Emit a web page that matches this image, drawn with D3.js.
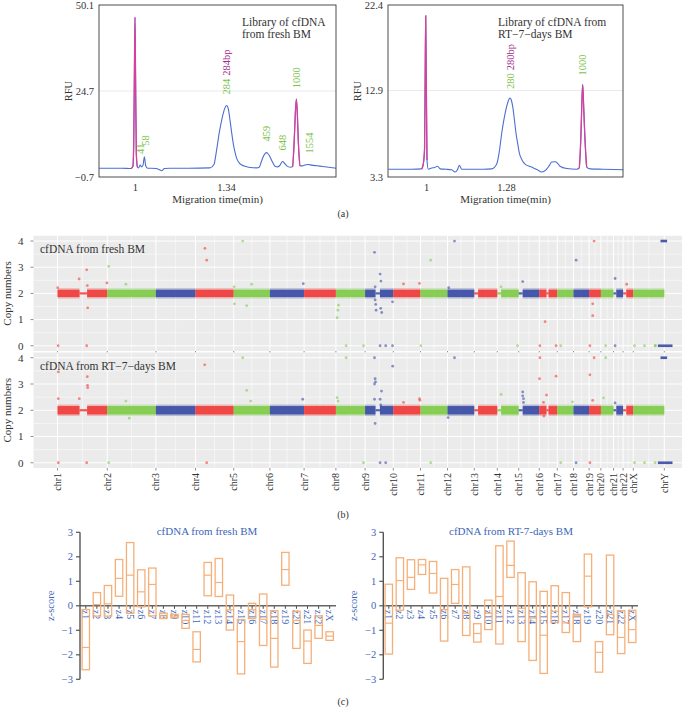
<!DOCTYPE html>
<html><head><meta charset="utf-8">
<script src="https://cdn.jsdelivr.net/npm/d3@7"></script>
<style>
body{margin:0;background:#fff}
svg{display:block}
text{font-family:"Liberation Serif","DejaVu Serif",serif}
</style>
</head><body>
<svg id="fig" width="686" height="707"></svg>
<script>
// ---------------- DATA ----------------
// (a) electropherograms: migration time (min) and RFU
const freshT = [0.866,0.95,0.985,0.992,0.995,0.998,1.0,1.002,1.005,1.009,1.014,1.019,1.025,1.030,1.035,1.040,1.047,1.06,1.08,1.09,1.0997,1.11,1.13,1.20,1.28,1.295,1.305,1.315,1.324,1.335,1.3425,1.349,1.355,1.361,1.367,1.374,1.380,1.39,1.399,1.415,1.43,1.455,1.464,1.472,1.479,1.486,1.492,1.498,1.504,1.513,1.523,1.533,1.542,1.547,1.552,1.558,1.567,1.58,1.589,1.595,1.599,1.603,1.607,1.610,1.616,1.625,1.638,1.648,1.66,1.68,1.702,1.73,1.751];
const freshRFU = [1.9,1.9,1.8,2.4,8,32,46.5,30,6,2.2,2.0,2.85,2.3,2.8,5.3,2.6,1.9,1.9,1.8,1.5,1.16,1.8,1.9,1.9,2.0,3.0,7.3,12.5,16.1,19.5,20.4,19.3,16.1,12.5,9.25,6.5,4.8,3.4,2.85,2.4,2.1,2.0,2.2,3.8,5.3,6.2,6.5,6.1,5.3,3.8,2.5,2.3,2.8,3.5,3.9,3.4,2.6,2.2,2.3,10.2,18,22.3,17,10.2,2.6,2.6,2.9,3.0,2.8,2.6,2.4,2.1,1.9];
const freshMarkers = [[0.985,1.012],[1.586,1.62]];
const freshPeakT = [1.019,1.04,1.3425,1.492,1.552,1.603,1.65];
const freshPeakRFU = [2.85,5.3,20.4,6.5,3.9,22.3,3.0];
const freshPeakText = ["41","58","284","459","648","1000","1554"];
const freshPeakBp = ["","","284bp","","","",""];

const rtT = [0.868,0.95,0.985,0.991,0.995,0.997,0.999,1.001,1.0035,1.008,1.02,1.03,1.040,1.05,1.07,1.09,1.1015,1.11,1.1167,1.125,1.15,1.20,1.23,1.2474,1.256,1.265,1.274,1.2824,1.29,1.294,1.298,1.3034,1.309,1.315,1.321,1.3267,1.336,1.3465,1.37,1.39,1.405,1.42,1.43,1.44,1.4515,1.46,1.469,1.4924,1.527,1.5366,1.5425,1.5455,1.5484,1.552,1.5555,1.5625,1.575,1.62,1.69];
const rtRFU = [4.16,4.16,4.2,4.84,6.5,14,21.2,14,5.2,4.16,4.3,4.35,4.5,4.2,4.16,4.1,3.85,4.1,4.6,4.16,4.16,4.16,4.2,4.74,6.0,8.16,9.9,11.14,11.9,12.08,11.9,11.14,9.8,8.16,7.0,5.95,5.2,4.74,4.4,4.1,3.85,4.1,4.5,4.97,5.0,4.85,4.5,4.25,4.16,4.3,8.16,11.5,13.57,11,8.16,4.4,4.2,4.16,4.1];
const rtMarkers = [[0.985,1.006],[1.534,1.565]];
const rtPeakT = [1.294,1.5484];
const rtPeakRFU = [12.08,13.57];
const rtPeakText = ["280","1000"];
const rtPeakBp = ["280bp",""];

const freshYTicks = [-0.7,24.7,50.1];
const rtYTicks = [3.3,12.9,22.4];
const freshXTicks = [1,1.34];
const rtXTicks = [1,1.28];

// (b) copy numbers
const chrNames = ["chr1","chr2","chr3","chr4","chr5","chr6","chr7","chr8","chr9","chr10","chr11","chr12","chr13","chr14","chr15","chr16","chr17","chr18","chr19","chr20","chr21","chr22","chrX","chrY"];
const chrLengths = [249,243,198,191,181,171,159,146,141,136,135,134,115,107,103,90,81,78,59,63,48,51,155,59];
const copyTicks = [0,1,2,3,4];
const bandLevel = 2;
const thinStart = [110,1590,2084,2199,2306,2445,2780,2828];
const thinEnd   = [148,1612,2103,2218,2326,2455,2794,2844];
const chrYBlobs = [[3002,3075,0],[3015,3048,4]];
const outFresh = [[1,2.22],[3,0],[108,2.55],[146,2.9],[149,2.3],[151,1.45],[146,0],[247,2.4],[256,3.03],[342,2.35],[737,3.72],[746,3.27],[926,4.0],[883,2.25],[885,1.6],[946,1.53],[971,2.35],[1229,2.37],[1405,1.55],[1402,1.36],[1398,1.07],[1443,0],[1530,0],[1585,3.57],[1613,2.74],[1617,2.47],[1588,2.25],[1588,1.75],[1591,1.58],[1593,1.36],[1616,1.43],[1621,1.27],[1613,0],[1641,0],[1675,1.68],[1675,0],[1730,2.36],[1810,2.38],[1817,0],[1866,3.27],[1985,4.0],[1956,2.22],[2218,2.25],[2300,0],[2326,2.45],[2412,0],[2438,0.92],[2493,0],[2516,0],[2593,3.27],[2662,0],[2676,1.6],[2676,1.15],[2683,4.0],[2741,0],[2788,2.57],[2788,0],[2846,2.35],[2885,0],[2935,0],[2988,0],[2990,0]];
const outRT = [[4,3.46],[4,2.44],[4,0],[109,2.44],[149,3.28],[150,2.95],[151,2.86],[146,0],[342,2.35],[359,1.7],[256,0],[736,3.73],[746,0],[926,4.0],[946,2.76],[966,2.35],[1226,2.42],[1398,2.48],[1403,2.35],[1443,4.0],[1530,0],[1585,4.0],[1588,3.2],[1590,3.08],[1585,3.0],[1620,2.73],[1585,2.42],[1613,2.42],[1616,2.2],[1588,1.5],[1676,3.68],[1613,0],[1641,0],[1730,2.3],[1810,2.44],[1812,2.38],[1866,0],[1985,4.0],[1953,1.72],[2218,2.6],[2326,2.7],[2326,2.55],[2330,2.44],[2330,2.3],[2412,4.0],[2410,3.2],[2430,2.3],[2445,2.58],[2432,1.78],[2493,3.3],[2516,0],[2575,2.32],[2593,0],[2662,3.35],[2662,0],[2683,4.0],[2676,2.38],[2741,4.0],[2730,2.47],[2788,2.28],[2885,0],[2935,0],[2988,0]];

// (c) z-scores
const zCats = ["z1","z2","z3","z4","z5","z6","z7","z8","z9","z10","z11","z12","z13","z14","z15","z16","z17","z18","z19","z20","z21","z22","zX"];
const freshTop = [-0.15,0.54,0.83,1.89,2.58,1.47,1.54,-0.30,-0.35,-0.35,-1.06,1.77,1.93,0.44,-0.56,0.10,0.48,-0.2,2.18,-0.22,-0.99,-0.41,-1.06];
const freshMid = [-1.70,0.05,0.08,1.12,1.25,0.57,0.87,-0.41,-0.42,-0.6,-1.78,1.25,0.95,-0.16,-1.46,-0.16,-0.55,-1.33,1.48,-0.6,-1.44,-0.8,-1.24];
const freshBot = [-2.61,-0.42,-0.42,0.39,-0.31,-0.04,-0.41,-0.52,-0.49,-0.92,-2.29,0.41,0.38,-0.99,-2.78,-0.52,-1.62,-2.5,0.84,-1.74,-2.35,-1.33,-1.41];
const rtTop = [0.88,1.96,1.88,1.89,1.81,1.12,1.48,1.59,-0.73,0.23,2.45,2.64,1.35,0.98,0.59,0.82,0.54,-0.35,2.11,-1.46,2.07,-0.2,-0.18];
const rtMid = [-0.71,1.03,1.16,1.67,1.32,-0.15,0.87,-0.3,-1.13,-0.3,0.38,1.65,-0.1,-0.5,-1.2,-0.23,-0.7,-0.41,1.21,-1.9,-0.35,-1.29,-0.97];
const rtBot = [-1.97,-0.18,0.67,1.28,0.52,-1.44,0.10,-1.21,-1.48,-0.97,-1.56,1.16,-1.46,-2.23,-2.76,-0.68,-1.09,-1.46,-0.04,-2.71,-1.18,-1.95,-1.5];
const zTicks = [-3,-2,-1,0,1,2,3];

// ---------------- DRAW ----------------
const svg = d3.select("#fig");
svg.append("rect").attr("width",686).attr("height",707).attr("fill","#fff");

const BLUE_TRACE = "#4a6fcf", PINK = "#d6409b", GREEN_LBL = "#7cc24a", PURPLE_LBL = "#a02a8c";

function electro(o){
  const g = svg.append("g");
  const x = d3.scaleLinear().domain(o.xDom).range([o.x0,o.x1]);
  const y = d3.scaleLinear().domain(o.yDom).range([o.y1,o.y0]);
  g.append("line").attr("x1",o.x0).attr("x2",o.x1).attr("y1",y(o.yTicks[1])).attr("y2",y(o.yTicks[1]))
    .attr("stroke","#e4e4e4").attr("stroke-width",0.8);
  const pts = o.t.map((t,i)=>[t,o.v[i]]);
  const line = d3.line().x(d=>x(d[0])).y(d=>y(d[1])).curve(d3.curveMonotoneX);
  g.append("path").attr("d",line(pts)).attr("fill","none").attr("stroke",BLUE_TRACE).attr("stroke-width",1.1);
  o.markers.forEach(r=>{
    const seg = pts.filter(p=>p[0]>=r[0]&&p[0]<=r[1]);
    g.append("path").attr("d",line(seg)).attr("fill","none").attr("stroke",PINK).attr("stroke-width",1.3);
  });
  g.append("rect").attr("x",o.x0).attr("y",o.y0).attr("width",o.x1-o.x0).attr("height",o.y1-o.y0)
    .attr("fill","none").attr("stroke","#3a3a3a").attr("stroke-width",0.9);
  const ya = g.append("g").attr("transform",`translate(${o.x0},0)`)
    .call(d3.axisLeft(y).tickValues(o.yTicks).tickSize(0).tickPadding(5).tickFormat(d3.format(".1f")));
  ya.select(".domain").remove();
  ya.selectAll("text").attr("font-size",10.5).attr("fill","#333").style("font-family","Liberation Serif");
  const xa = g.append("g").attr("transform",`translate(0,${o.y1})`)
    .call(d3.axisBottom(x).tickValues(o.xTicks).tickSize(0).tickPadding(7).tickFormat(d=>String(d)));
  xa.select(".domain").remove();
  xa.selectAll("text").attr("font-size",10.5).attr("fill","#333").style("font-family","Liberation Serif");
  g.append("text").attr("transform",`translate(${o.x0-27},${(o.y0+o.y1)/2}) rotate(-90)`)
    .attr("text-anchor","middle").attr("font-size",10.5).attr("fill","#333").text("RFU");
  g.append("text").attr("x",(o.x0+o.x1)/2).attr("y",o.y1+26).attr("text-anchor","middle")
    .attr("font-size",11).attr("fill","#333").text("Migration time(min)");
  o.pT.forEach((t,i)=>{
    const tx = g.append("text").attr("transform",`translate(${x(t)},${y(o.pV[i])-o.lblOff}) rotate(-90)`)
      .attr("dy","0.35em").attr("font-size",10.5);
    tx.append("tspan").attr("fill",GREEN_LBL).text(o.pText[i]);
    if(o.pBp[i]) tx.append("tspan").attr("fill",PURPLE_LBL).attr("dx",3).text(o.pBp[i]);
  });
  o.note.forEach((s,i)=>{
    g.append("text").attr("x",o.noteX).attr("y",26+i*12).attr("font-size",11.5).attr("fill","#333").text(s);
  });
}

electro({x0:99,x1:336,y0:5,y1:177,xDom:[0.8655,1.751],yDom:[-0.7,50.1],yTicks:freshYTicks,xTicks:freshXTicks,
  t:freshT,v:freshRFU,markers:freshMarkers,pT:freshPeakT,pV:freshPeakRFU,pText:freshPeakText,pBp:freshPeakBp,lblOff:11,
  note:["Library of cfDNA","from fresh BM"],noteX:242});
electro({x0:388,x1:623,y0:5,y1:177,xDom:[0.867,1.6895],yDom:[3.3,22.4],yTicks:rtYTicks,xTicks:rtXTicks,
  t:rtT,v:rtRFU,markers:rtMarkers,pT:rtPeakT,pV:rtPeakRFU,pText:rtPeakText,pBp:rtPeakBp,lblOff:9,
  note:["Library of cfDNA from","RT\u22127\u2212days BM"],noteX:498});

svg.append("text").attr("x",343).attr("y",217).attr("text-anchor","middle").attr("font-size",10).attr("fill","#333").text("(a)");

// ---------- (b) ----------
const chrStarts = [0, ...d3.cumsum(chrLengths)].slice(0,chrLengths.length);
const cols = ["#ee2e2c","#77c83d","#2d3f9e"];
const colOf = g => cols[(d3.bisectRight(chrStarts,g)-1)%3];
const bx = d3.scaleLinear().domain([-120,3122.5]).range([33.5,682]);
const panels = [
  {y0:235.8,y1:351,title:"cfDNA from fresh BM",out:outFresh,hw:0.14},
  {y0:352.5,y1:468,title:"cfDNA from RT\u22127\u2212days BM",out:outRT,hw:0.16}
];
const minorX = chrStarts.slice(1).map((s,i)=>(s+chrStarts[i])/2);
panels.forEach(p=>{
  const g = svg.append("g");
  const y = d3.scaleLinear().domain([-0.2,4.2]).range([p.y1,p.y0]);
  const [L,R] = bx.range();
  g.append("rect").attr("x",L).attr("y",p.y0).attr("width",R-L).attr("height",p.y1-p.y0).attr("fill","#ebebeb");
  [0.5,1.5,2.5,3.5].forEach(v=>g.append("line").attr("x1",L).attr("x2",R).attr("y1",y(v)).attr("y2",y(v)).attr("stroke","#fff").attr("stroke-width",0.5));
  minorX.forEach(v=>g.append("line").attr("x1",bx(v)).attr("x2",bx(v)).attr("y1",p.y0).attr("y2",p.y1).attr("stroke","#fff").attr("stroke-width",0.5));
  copyTicks.forEach(v=>g.append("line").attr("x1",L).attr("x2",R).attr("y1",y(v)).attr("y2",y(v)).attr("stroke","#fff").attr("stroke-width",1));
  chrStarts.forEach(v=>g.append("line").attr("x1",bx(v)).attr("x2",bx(v)).attr("y1",p.y0).attr("y2",p.y1).attr("stroke","#fff").attr("stroke-width",1));
  chrStarts.forEach((s,i)=>{
    if(chrNames[i]==="chrY") return;
    const e = s+chrLengths[i];
    const col = cols[i%3];
    const pieces = [];
    let cur = s;
    thinStart.forEach((ts,k)=>{ if(ts>=s && ts<e){ if(ts>cur) pieces.push([cur,ts,p.hw]); pieces.push([ts,thinEnd[k],0.04]); cur=thinEnd[k]; }});
    if(cur<e) pieces.push([cur,e,p.hw]);
    pieces.forEach(pc=>{
      if(pc[2]>0.05){
        g.append("rect").attr("x",bx(pc[0])).attr("width",bx(pc[1])-bx(pc[0]))
          .attr("y",y(bandLevel+pc[2]+0.06)).attr("height",y(bandLevel-pc[2]-0.06)-y(bandLevel+pc[2]+0.06))
          .attr("fill",col).attr("opacity",0.28);
      }
      g.append("rect").attr("x",bx(pc[0])).attr("width",bx(pc[1])-bx(pc[0]))
        .attr("y",y(bandLevel+pc[2])).attr("height",y(bandLevel-pc[2])-y(bandLevel+pc[2]))
        .attr("fill",col).attr("opacity",0.82);
    });
  });
  chrYBlobs.forEach(b=>{
    g.append("rect").attr("x",bx(b[0])).attr("width",bx(b[1])-bx(b[0])).attr("y",y(b[2]+0.05)).attr("height",y(b[2]-0.05)-y(b[2]+0.05))
      .attr("fill",cols[2]).attr("opacity",0.85);
  });
  g.selectAll("circle.o").data(p.out).join("circle").attr("cx",d=>bx(d[0])).attr("cy",d=>y(d[1])).attr("r",1.4)
    .attr("fill",d=>colOf(d[0])).attr("opacity",0.55);
  copyTicks.forEach(v=>{
    g.append("line").attr("x1",L-3).attr("x2",L).attr("y1",y(v)).attr("y2",y(v)).attr("stroke","#444").attr("stroke-width",0.6);
    g.append("text").attr("x",L-10).attr("y",y(v)).attr("dy","0.35em").attr("text-anchor","end").attr("font-size",11).attr("fill","#333").text(v);
  });
  chrStarts.forEach(v=>g.append("line").attr("x1",bx(v)).attr("x2",bx(v)).attr("y1",p.y1).attr("y2",p.y1+2.5).attr("stroke","#444").attr("stroke-width",0.6));
  g.append("text").attr("transform",`translate(11,${(p.y0+p.y1)/2}) rotate(-90)`).attr("text-anchor","middle")
    .attr("font-size",11).attr("fill","#333").text("Copy numbers");
  g.append("text").attr("x",40).attr("y",p.y0+17).attr("font-size",11.5).attr("fill","#333").text(p.title);
});
chrStarts.forEach((s,i)=>{
  svg.append("text").attr("transform",`translate(${bx(s)},473) rotate(-90)`).attr("text-anchor","end").attr("dy","0.35em")
    .attr("font-size",10).attr("fill","#333").text(chrNames[i]);
});
svg.append("text").attr("x",343).attr("y",518).attr("text-anchor","middle").attr("font-size",10).attr("fill","#333").text("(b)");

// ---------- (c) ----------
const ZBLUE = "#3d66b8", BOX = "#f5b07a";
const zy = d3.scaleLinear().domain([-3,3]).range([679.3,532.3]);
function zchart(ax, c0, c1, xEnd, title, titleX, top, mid, bot){
  const g = svg.append("g");
  const x = d3.scalePoint().domain(zCats).range([c0,c1]);
  const w = 7.4;
  zCats.forEach(c=>{
    g.append("text").attr("transform",`translate(${x(c)},${zy(0)+4}) rotate(90)`).attr("dy","0.35em")
      .attr("font-size",10).attr("fill",ZBLUE).text(c);
    g.append("line").attr("x1",x(c)).attr("x2",x(c)).attr("y1",zy(0)).attr("y2",zy(0)+3).attr("stroke","#444").attr("stroke-width",1);
  });
  g.append("line").attr("x1",ax).attr("x2",xEnd).attr("y1",zy(0)).attr("y2",zy(0)).attr("stroke","#666").attr("stroke-width",1.4);
  g.append("line").attr("x1",ax).attr("x2",ax).attr("y1",zy(3)).attr("y2",zy(-3)).attr("stroke","#555").attr("stroke-width",1.4);
  zTicks.forEach(v=>{
    g.append("line").attr("x1",ax-4).attr("x2",ax).attr("y1",zy(v)).attr("y2",zy(v)).attr("stroke","#555").attr("stroke-width",1.2);
    g.append("text").attr("x",ax-7).attr("y",zy(v)).attr("dy","0.35em").attr("text-anchor","end")
      .attr("font-size",10.5).attr("fill",ZBLUE).text(d3.format("")(v));
  });
  zCats.forEach((c,i)=>{
    g.append("rect").attr("x",x(c)-w/2).attr("width",w).attr("y",zy(top[i])).attr("height",zy(bot[i])-zy(top[i]))
      .attr("fill","none").attr("stroke",BOX).attr("stroke-width",1.3);
    g.append("line").attr("x1",x(c)-w/2).attr("x2",x(c)+w/2).attr("y1",zy(mid[i])).attr("y2",zy(mid[i]))
      .attr("stroke",BOX).attr("stroke-width",1.2);
  });
  g.append("text").attr("transform",`translate(${ax-26},${zy(0)}) rotate(-90)`).attr("text-anchor","middle")
    .attr("font-size",10.5).attr("fill",ZBLUE).text("z-score");
  g.append("text").attr("x",titleX).attr("y",535).attr("text-anchor","middle").attr("font-size",11).attr("fill",ZBLUE).text(title);
}
zchart(80,85.8,329.7,336,"cfDNA from fresh BM",207,freshTop,freshMid,freshBot);
zchart(383.3,388.8,632.2,638,"cfDNA from RT-7-days BM",511,rtTop,rtMid,rtBot);
svg.append("text").attr("x",343).attr("y",705).attr("text-anchor","middle").attr("font-size",10).attr("fill","#333").text("(c)");
</script>
</body></html>
